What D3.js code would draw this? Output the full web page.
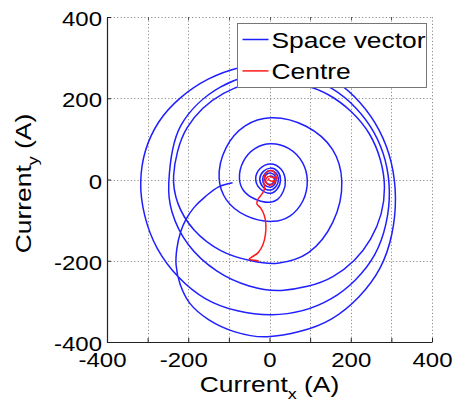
<!DOCTYPE html>
<html>
<head>
<meta charset="utf-8">
<script src="https://cdn.jsdelivr.net/npm/d3@7"></script>
<style>
body { margin: 0; background: #fff; }
</style>
</head>
<body>
<div id="chart"></div>
<script>
// axis ticks
var xTicks = [-400, -300, -200, -100, 0, 100, 200, 300, 400];
var yTicks = [-400, -200, 0, 200, 400];
var legendLabels = ["Space vector", "Centre"];

// space vector trajectory (A), in time order
var spaceVector = [
  [-91, -8], [-125, -18], [-158, -42], [-185, -68], [-205, -97], [-219, -130], [-228, -170],
  [-230, -210], [-220, -258], [-196, -305], [-150, -345], [-85, -375], [-5, -387],
  [153, -343], [272, -218], [310, -45],
  [270, 121], [162, 242], [15, 286],
  [-151, 247], [-273, 141], [-317, -5],
  [-276, -170], [-158, -293], [5, -333],
  [151, -294], [259, -185], [295, -30],
  [257, 116], [155, 223], [15, 262],
  [-120, 228], [-218, 133], [-248, -10],
  [-240, -80], [-200, -160], [-130, -225], [-50, -262], [30, -273],
  [156, -239], [249, -146], [283, -20],
  [246, 112], [146, 208], [10, 243],
  [-113, 212], [-203, 127], [-236, 10],
  [-225, -60], [-185, -125], [-120, -175], [-45, -200], [20, -206],
  [96, -180], [156, -105], [178, -5],
  [155, 74], [90, 131], [3, 152],
  [-60, 132], [-107, 78], [-124, 3],
  [-106, -50], [-58, -89], [8, -103],
  [50, -90], [82, -53], [93, -3],
  [81, 42], [48, 76], [3, 88],
  [-36, 76], [-64, 45], [-74, 2],
  [-64, -27], [-36, -48], [2, -56],
  [20, -49], [34, -29], [39, -2],
  [28, 26], [3, 38], [-23, 27], [-34, 2],
  [-23, -23], [2, -34], [20, -22], [27, 0],
  [20, 20], [2, 28], [-15, 20], [-24, 2],
  [-17, -17], [0, -26], [16, -17], [22, 2],
  [16, 16], [2, 22], [-11, 15], [-17, 0],
  [-12, -13], [2, -19], [12, -13], [16, -2],
  [12, 11], [2, 16], [-8, 12], [-12, 3],
  [-8, -8], [3, -12], [9, -8], [12, 0],
  [8, 7], [2, 9]
];

// centre of the space vector (A)
var centre = [
  [-26, -201], [-38, -199], [-50, -196], [-42, -190], [-28, -180], [-16, -160], [-10, -135],
  [-9, -110], [-13, -88], [-22, -70], [-31, -60], [-28, -48], [-18, -35], [-12, -22],
  [-14, -8], [-12, 10], [-4, 20], [8, 21], [15, 12], [16, 0], [10, -10],
  [0, -14], [-8, -8], [-8, 3], [0, 8], [8, 5], [19, 4], [12, -3],
  [4, -4], [-3, 0], [0, 3]
];

var w = 453, h = 408;
var stretch = 1.2;
var font = "'Liberation Sans', Arial, Helvetica, sans-serif";

var x = d3.scaleLinear().domain([-400, 400]).range([107, 432]);
var y = d3.scaleLinear().domain([-400, 400]).range([342, 17]);

var svg = d3.select("#chart").append("svg")
    .attr("width", w)
    .attr("height", h)
    .style("font-family", font);

svg.append("defs").append("clipPath").attr("id", "plotclip")
    .append("rect")
    .attr("x", x(-400)).attr("y", y(400))
    .attr("width", x(400) - x(-400)).attr("height", y(-400) - y(400));

// dotted grid
var grid = svg.append("g").attr("class", "grid")
    .attr("stroke", "#8c8c8c")
    .attr("stroke-width", 1)
    .attr("stroke-dasharray", "1.2,2.2");

grid.selectAll("line.vx")
    .data(xTicks.filter(function(d) { return d > -400; }))
    .enter().append("line")
    .attr("class", "vx")
    .attr("x1", function(d) { return Math.round(x(d)) + 0.5; })
    .attr("x2", function(d) { return Math.round(x(d)) + 0.5; })
    .attr("y1", y(400))
    .attr("y2", y(-400));

grid.selectAll("line.hy")
    .data(yTicks.filter(function(d) { return d > -400; }))
    .enter().append("line")
    .attr("class", "hy")
    .attr("x1", x(-400))
    .attr("x2", x(400))
    .attr("y1", function(d) { return Math.round(y(d)) + 0.5; })
    .attr("y2", function(d) { return Math.round(y(d)) + 0.5; });

// small ticks along the top edge
svg.append("g").selectAll("line")
    .data(xTicks.slice(1, -1))
    .enter().append("line")
    .attr("x1", function(d) { return Math.round(x(d)) + 0.5; })
    .attr("x2", function(d) { return Math.round(x(d)) + 0.5; })
    .attr("y1", y(400))
    .attr("y2", y(400) + 3)
    .attr("stroke", "#555");

// curves
var line = d3.line()
    .x(function(d) { return x(d[0]); })
    .y(function(d) { return y(d[1]); })
    .curve(d3.curveCatmullRom.alpha(0.5));

var plot = svg.append("g").attr("clip-path", "url(#plotclip)");

plot.append("path")
    .datum(spaceVector)
    .attr("d", line)
    .attr("fill", "none")
    .attr("stroke", "#1f1fff")
    .attr("stroke-width", 1.5);

plot.append("path")
    .datum(centre)
    .attr("d", line)
    .attr("fill", "none")
    .attr("stroke", "#ff1a1a")
    .attr("stroke-width", 1.5);

// axes
var yAxis = d3.axisLeft(y)
    .tickValues(yTicks)
    .tickSize(-4)
    .tickSizeOuter(0)
    .tickPadding(5)
    .tickFormat(function(d) { return String(d); });

var gy = svg.append("g")
    .attr("transform", "translate(" + x(-400) + ",0)")
    .call(yAxis);

gy.selectAll("text")
    .attr("x", -5 / stretch)
    .attr("dy", "0.43em")
    .attr("transform", "scale(" + stretch + ",1)")
    .style("font-size", "20px")
    .style("font-family", font)
    .attr("fill", "#000");

var xAxis = d3.axisBottom(x)
    .tickValues(xTicks)
    .tickSize(-4)
    .tickSizeOuter(0)
    .tickPadding(11)
    .tickFormat(function(d) { return d % 200 === 0 ? String(d) : ""; });

var gx = svg.append("g")
    .attr("transform", "translate(0," + y(-400) + ")")
    .call(xAxis);

gx.selectAll("text")
    .attr("x", function(d) { return (d < 0 ? -5 : 0) / stretch; })
    .attr("transform", "scale(" + stretch + ",1)")
    .style("font-size", "20px")
    .style("font-family", font)
    .attr("fill", "#000");

[gx, gy].forEach(function(g) {
    g.select(".domain").attr("stroke", "#222").attr("stroke-width", 1.2);
    g.selectAll(".tick line").attr("stroke", "#222");
});

// axis titles
var xTitle = svg.append("text")
    .attr("transform", "translate(" + ((x(-400) + x(400)) / 2) + ",391.5) scale(" + stretch + ",1)")
    .attr("text-anchor", "middle")
    .style("font-size", "22px");
xTitle.append("tspan").text("Current");
xTitle.append("tspan").attr("dy", 7).style("font-size", "15px").text("x");
xTitle.append("tspan").attr("dy", -7).text(" (A)");

var yTitle = svg.append("text")
    .attr("transform", "translate(31," + ((y(-400) + y(400)) / 2 + 4) + ") rotate(-90) scale(" + stretch + ",1)")
    .attr("text-anchor", "middle")
    .style("font-size", "22px");
yTitle.append("tspan").text("Current");
yTitle.append("tspan").attr("dy", 7).style("font-size", "15px").text("y");
yTitle.append("tspan").attr("dy", -7).text(" (A)");

// legend
var legend = svg.append("g").attr("transform", "translate(237.5,23.5)");
legend.append("rect")
    .attr("width", 189)
    .attr("height", 64)
    .attr("fill", "#fff")
    .attr("stroke", "#777")
    .attr("stroke-width", 1);

var legendColors = ["#1f1fff", "#ff1a1a"];
var items = legend.selectAll("g.item")
    .data(legendLabels)
    .enter().append("g")
    .attr("class", "item")
    .attr("transform", function(d, i) { return "translate(0," + (16 + i * 31.4) + ")"; });

items.append("line")
    .attr("x1", 5).attr("x2", 31)
    .attr("stroke", function(d, i) { return legendColors[i]; })
    .attr("stroke-width", 1.5);

items.append("text")
    .attr("transform", "translate(34,8) scale(" + stretch + ",1)")
    .style("font-size", "22px")
    .text(function(d) { return d; });
</script>
</body>
</html>
